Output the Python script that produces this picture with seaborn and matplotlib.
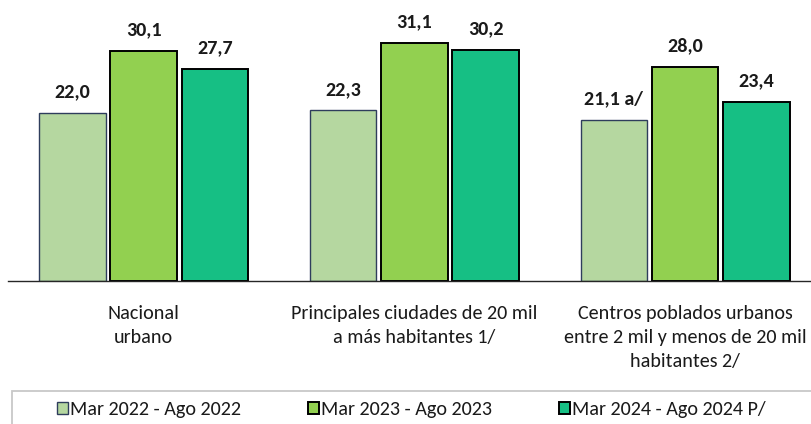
import matplotlib
matplotlib.use("Agg")
import matplotlib.pyplot as plt
import matplotlib.patches as mpatches
import pandas as pd
import seaborn as sns

# data
categories = ["Nacional\nurbano",
              "Principales ciudades de 20 mil\na más habitantes 1/",
              "Centros poblados urbanos\nentre 2 mil y menos de 20 mil\nhabitantes 2/"]
periods = ["Mar 2022 - Ago 2022", "Mar 2023 - Ago 2023", "Mar 2024 - Ago 2024 P/"]
values_2022 = [22.0, 22.3, 21.1]
values_2023 = [30.1, 31.1, 28.0]
values_2024 = [27.7, 30.2, 23.4]
notes_2022 = ["", "", " a/"]

colors = ["#B5D7A0", "#92D050", "#16BF84"]
edges = ["#2E3D5C", "#000000", "#000000"]

rows = []
for period, vals in zip(periods, [values_2022, values_2023, values_2024]):
    for cat, v in zip(categories, vals):
        rows.append({"cat": cat, "period": period, "value": v})
df = pd.DataFrame(rows)

sns.set_style("white")
plt.rcParams["font.family"] = ["Carlito", "DejaVu Sans"]

fig = plt.figure(figsize=(8.12, 4.24), dpi=100)
ax = fig.add_axes([8.3 / 812, 143 / 424, 812.1 / 812, 281 / 424])

sns.barplot(data=df, x="cat", y="value", hue="period", order=categories,
            hue_order=periods, palette=colors, width=0.79, gap=0.067,
            saturation=1, legend=False, ax=ax)

for i, cont in enumerate(ax.containers):
    for bar in cont:
        bar.set_edgecolor(edges[i])
        bar.set_linewidth(1.0 if i == 0 else 1.4)
    if i == 0:
        labels = [f"{v:.1f}".replace(".", ",") + n for v, n in zip(values_2022, notes_2022)]
    else:
        vals = values_2023 if i == 1 else values_2024
        labels = [f"{v:.1f}".replace(".", ",") for v in vals]
    ax.bar_label(cont, labels=labels, padding=9, fontsize=14.5, fontweight="bold",
                 color="#1a1a1a")

ax.set_xlim(-0.5, 2.5)
ax.set_ylim(0, 36.73)
ax.set_xlabel("")
ax.set_ylabel("")
ax.set_yticks([])
for s in ["top", "right", "left"]:
    ax.spines[s].set_visible(False)
ax.spines["bottom"].set_color("#262626")
ax.spines["bottom"].set_linewidth(1.0)

ax.set_xticks([-0.5, 0.5, 1.5, 2.5], minor=True)
ax.tick_params(axis="x", which="minor", length=4.5, width=1, color="#262626", direction="out")
ax.tick_params(axis="x", which="major", length=0, pad=17)
ax.set_xticks(range(len(categories)))
ax.set_xticklabels(categories, fontsize=14.5, linespacing=1.5, va="top", color="#1a1a1a")

# legend box extending off the right edge
fig.patches.append(mpatches.Rectangle((12 / 812, -0.05), 1.1, (424 - 391) / 424 + 0.05,
                                      transform=fig.transFigure, fill=False,
                                      edgecolor="#C8C8C8", linewidth=1.3))
handles = [cont.patches[0] for cont in ax.containers]
fig.legend(handles, periods, loc="center left", bbox_to_anchor=(56.7 / 812, 14 / 424),
           ncol=3, frameon=False, fontsize=14.5, handlelength=0.55, handleheight=0.55,
           handletextpad=0.12, columnspacing=3.3, borderpad=0, borderaxespad=0,
           labelcolor="#1a1a1a")

fig.savefig("out.png", dpi=100)
